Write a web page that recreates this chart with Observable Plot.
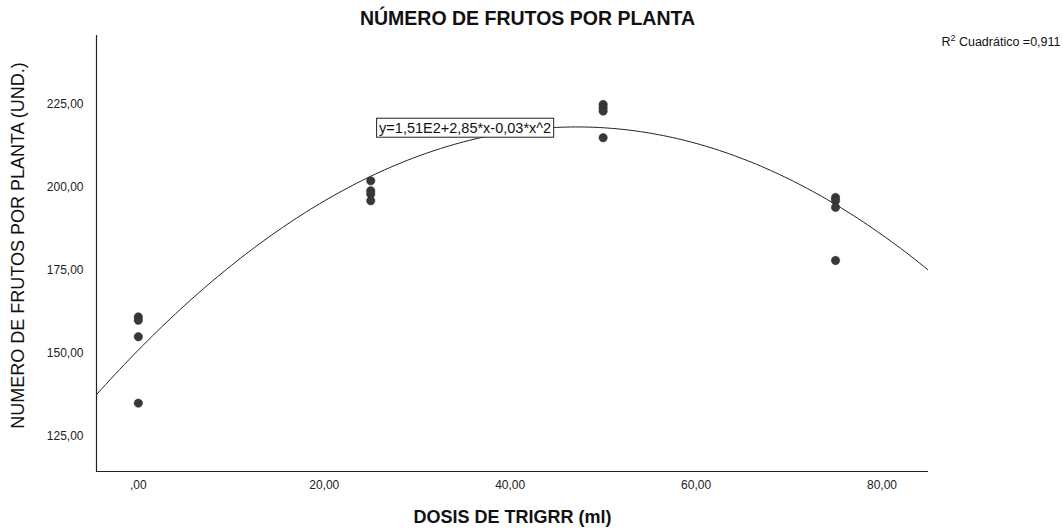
<!DOCTYPE html>
<html>
<head>
<meta charset="utf-8">
<script src="https://cdn.jsdelivr.net/npm/d3@7"></script>
<script src="https://cdn.jsdelivr.net/npm/@observablehq/plot@0.6"></script>
<style>
  html, body { margin: 0; padding: 0; background: #fff; }
</style>
</head>
<body>
<div id="chart"></div>
<script>
// ---- data ----
const doses  = [0, 0, 0, 0, 25, 25, 25, 25, 50, 50, 50, 50, 75, 75, 75, 75];
const frutos = [161, 160, 155, 135, 202, 199, 198, 196, 225, 224, 223, 215, 197, 196, 194, 178];
const xTicks = [0, 20, 40, 60, 80];
const yTicks = [125, 150, 175, 200, 225];
const fitCoef = [151, 2.85, -0.0302];
const fitLabel = "y=1,51E2+2,85*x-0,03*x^2";
const r2Parts = ["R", "2", " Cuadrático =0,911"];
const titleText = "NÚMERO DE FRUTOS POR PLANTA";
const xTitle = "DOSIS DE TRIGRR (ml)";
const yTitle = "NUMERO DE FRUTOS POR PLANTA (UND.)";

const xDomain = [-4.5, 85];
const yDomain = [114.4, 245.8];

const points = doses.map((d, i) => ({dose: d, value: frutos[i]}));
const curve = d3.range(xDomain[0], xDomain[1] + 0.001, 0.5).map(x => ({
  x, y: fitCoef[0] + fitCoef[1] * x + fitCoef[2] * x * x
}));
const fmt = d => d.toFixed(2).replace(".", ",").replace(/^0,/, ",");

const plot = Plot.plot({
  width: 1063,
  height: 528,
  marginLeft: 96,
  marginRight: 135,
  marginTop: 35,
  marginBottom: 57,
  style: {fontFamily: "'Liberation Sans', Arial, sans-serif", background: "#fff", color: "#222"},
  x: {domain: xDomain},
  y: {domain: yDomain},
  marks: [
    Plot.axisX({ticks: xTicks, tickSize: 0, tickPadding: 9, tickFormat: fmt, fontSize: 12, label: null}),
    Plot.axisY({ticks: yTicks, tickSize: 0, tickPadding: 13, tickFormat: fmt, fontSize: 12, label: null}),
    Plot.ruleX([xDomain[0]], {stroke: "#222", strokeWidth: 1.2}),
    Plot.ruleY([yDomain[0]], {stroke: "#222", strokeWidth: 1.2}),
    Plot.line(curve, {x: "x", y: "y", stroke: "#222", strokeWidth: 1, clip: true}),
    Plot.dot(points, {x: "dose", y: "value", r: 4.2, fill: "#383838", stroke: "#2a2a2a", strokeWidth: 0.5}),
    Plot.text([fitLabel], {x: 25.9, y: 217.9, text: d => d, textAnchor: "start", fontSize: 14.5, fill: "#111", className: "eqlabel"}),
    Plot.text([titleText], {frameAnchor: "top", text: d => d, textAnchor: "middle", lineAnchor: "middle", dx: 15, dy: -17, fontSize: 19.5, fontWeight: "bold", fill: "#111"}),
    Plot.text([r2Parts.join("")], {frameAnchor: "top-right", text: d => d, textAnchor: "end", lineAnchor: "middle", dx: 132, dy: 6, fontSize: 12.5, fill: "#111", className: "r2label"}),
    Plot.text([xTitle], {frameAnchor: "bottom", text: d => d, textAnchor: "middle", lineAnchor: "middle", dy: 46, fontSize: 18, fontWeight: "bold", fill: "#111"}),
    Plot.text([yTitle], {frameAnchor: "left", text: d => d, textAnchor: "middle", lineAnchor: "middle", rotate: -90, dx: -78, dy: -8, fontSize: 18, fill: "#111"})
  ]
});

document.getElementById("chart").appendChild(plot);

// superscript for R²
plot.querySelectorAll(".r2label text").forEach(t => {
  const ns = "http://www.w3.org/2000/svg";
  t.textContent = "";
  const a = document.createElementNS(ns, "tspan"); a.textContent = r2Parts[0];
  const b = document.createElementNS(ns, "tspan"); b.textContent = r2Parts[1];
  b.setAttribute("font-size", "9"); b.setAttribute("dy", "-5");
  const c = document.createElementNS(ns, "tspan"); c.textContent = r2Parts[2];
  c.setAttribute("dy", "5");
  t.appendChild(a); t.appendChild(b); t.appendChild(c);
});

// draw a box around the equation label
plot.querySelectorAll(".eqlabel text").forEach(t => {
  const b = t.getBBox();
  const rect = document.createElementNS("http://www.w3.org/2000/svg", "rect");
  rect.setAttribute("x", b.x - 2.5);
  rect.setAttribute("y", b.y - 1.5);
  rect.setAttribute("width", b.width + 5);
  rect.setAttribute("height", b.height + 3);
  rect.setAttribute("fill", "#fff");
  rect.setAttribute("stroke", "#222");
  rect.setAttribute("stroke-width", "1");
  const tr = t.getAttribute("transform");
  if (tr) rect.setAttribute("transform", tr);
  t.parentNode.insertBefore(rect, t);
});
</script>
</body>
</html>
